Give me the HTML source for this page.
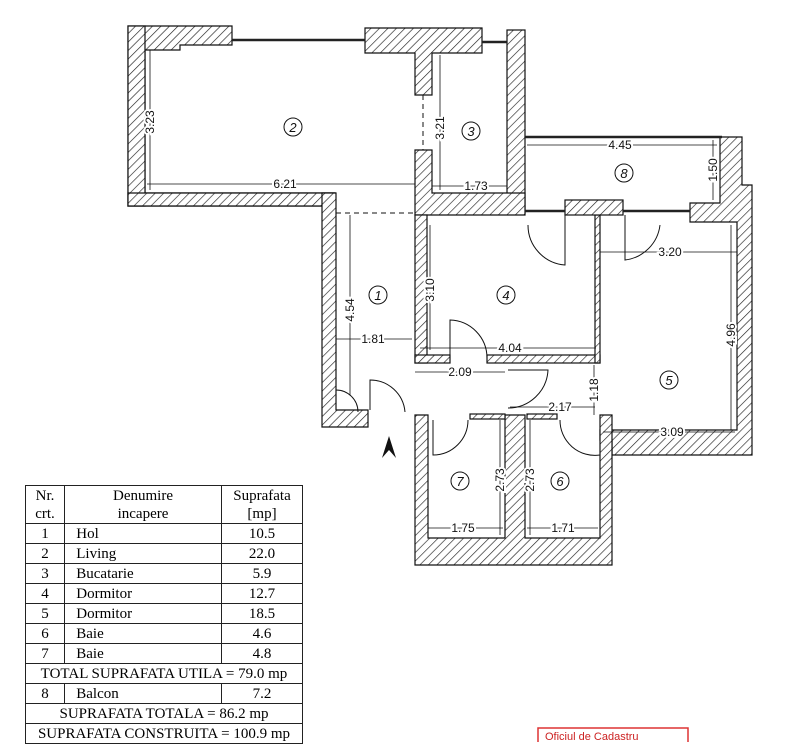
<!DOCTYPE html>
<html><head><meta charset="utf-8"><style>
body{margin:0;background:#fff;width:800px;height:742px;overflow:hidden;position:relative;font-family:"Liberation Serif",serif}
svg{position:absolute;left:0;top:0}
table{position:absolute;left:25px;top:485px;border-collapse:collapse;font-size:15px;width:278px}
td{border:1.5px solid #222;height:19px;padding:0;line-height:18px}
.c{text-align:center}
</style></head><body>
<svg width="800" height="742" viewBox="0 0 800 742" font-family="Liberation Sans, sans-serif">
<defs><pattern id="h" width="6" height="6" patternUnits="userSpaceOnUse" patternTransform="rotate(45)"><rect width="6" height="6" fill="#fff"/><line x1="0" y1="0" x2="0" y2="6" stroke="#222" stroke-width="1.3"/></pattern></defs>
<g fill="url(#h)" stroke="#111" stroke-width="1.2">
<path d="M128 26H232V45H180V50H145V193H335V206H145V206H128Z"/>
<rect x="128" y="26" width="17" height="180"/>
<path d="M365 28H482V53H432V95H415V53H365Z"/>
<rect x="507" y="30" width="18" height="183"/>
<path d="M128 193H335V206H128Z"/>
<path d="M322 193H336V410H368V427H322Z"/>
<path d="M415 150H432V193H525V215H415Z"/>
<rect x="415" y="215" width="12" height="148"/>
<rect x="415" y="355" width="35" height="8"/>
<rect x="487" y="355" width="113" height="8"/>
<rect x="595" y="215" width="5" height="148"/>
<rect x="565" y="200" width="58" height="15"/>
<path d="M690 203H720V137H742V185H752V455H612V440H600V430H737V222H690Z"/>
<path d="M415 415H428V538H505V415H525V538H600V415H612V565H415Z"/>
<rect x="470" y="414" width="35" height="5"/>
<rect x="527" y="414" width="30" height="5"/>
</g>
<g stroke="#222" stroke-width="2.5" fill="none">
<line x1="232" y1="40" x2="365" y2="40"/><line x1="482" y1="42" x2="507" y2="42"/>
<line x1="525" y1="137" x2="722" y2="137"/>
<line x1="525" y1="211" x2="565" y2="211"/><line x1="623" y1="211" x2="690" y2="211"/>
</g>
<g stroke="#111" stroke-width="1" fill="none">
<line x1="423" y1="95" x2="423" y2="150" stroke-dasharray="5,4"/>
<line x1="336" y1="213" x2="415" y2="213" stroke-dasharray="5,4"/>
<path d="M450 363V320A38 38 0 0 1 487 358"/>
<path d="M565 215V265A40 40 0 0 1 528 225"/><path d="M625 215V260A40 40 0 0 0 660 225"/>
<path d="M508 370H548A40 40 0 0 1 508 408"/>
<path d="M370 410V380A35 35 0 0 1 405 412"/>
<path d="M433 420V455A35 35 0 0 0 468 420"/><path d="M600 420V455A35 35 0 0 1 560 420"/>
<path d="M336 390A22 22 0 0 1 358 412"/>
</g>
<g stroke="#111" stroke-width="0.8" fill="none">
<line x1="150" y1="50" x2="150" y2="190"/><line x1="147" y1="184" x2="415" y2="184"/>
<line x1="440" y1="55" x2="440" y2="190"/><line x1="432" y1="186" x2="507" y2="186"/>
<line x1="350" y1="215" x2="350" y2="395"/><line x1="336" y1="339" x2="412" y2="339"/>
<line x1="430" y1="225" x2="430" y2="350"/><line x1="420" y1="348" x2="596" y2="348"/>
<line x1="415" y1="372" x2="505" y2="372"/>
<line x1="600" y1="252" x2="737" y2="252"/><line x1="731" y1="225" x2="731" y2="430"/>
<line x1="594" y1="365" x2="594" y2="415"/><line x1="510" y1="407" x2="595" y2="407"/>
<line x1="603" y1="432" x2="735" y2="432"/>
<line x1="500" y1="420" x2="500" y2="535"/><line x1="530" y1="420" x2="530" y2="535"/>
<line x1="428" y1="528" x2="503" y2="528"/><line x1="527" y1="528" x2="598" y2="528"/>
<line x1="527" y1="145" x2="717" y2="145"/><line x1="713" y1="140" x2="713" y2="200"/>
</g>
<g font-size="12" text-anchor="middle" fill="#111" stroke="#fff" stroke-width="4" paint-order="stroke">
<text x="285" y="188">6.21</text>
<text x="476" y="190">1.73</text>
<text x="373" y="343">1.81</text>
<text x="510" y="352">4.04</text>
<text x="460" y="376">2.09</text>
<text x="670" y="256">3.20</text>
<text x="560" y="411">2.17</text>
<text x="672" y="436">3.09</text>
<text x="463" y="532">1.75</text>
<text x="563" y="532">1.71</text>
<text x="620" y="149">4.45</text>
<text transform="translate(154,122) rotate(-90)">3.23</text>
<text transform="translate(444,128) rotate(-90)">3.21</text>
<text transform="translate(354,310) rotate(-90)">4.54</text>
<text transform="translate(434,290) rotate(-90)">3.10</text>
<text transform="translate(735,335) rotate(-90)">4.96</text>
<text transform="translate(598,390) rotate(-90)">1.18</text>
<text transform="translate(504,480) rotate(-90)">2.73</text>
<text transform="translate(534,480) rotate(-90)">2.73</text>
<text transform="translate(717,170) rotate(-90)">1.50</text>
</g>
<g fill="none" stroke="#111">
<circle cx="293" cy="127" r="9"/><circle cx="471" cy="131" r="9"/><circle cx="378" cy="295" r="9"/>
<circle cx="506" cy="295" r="9"/><circle cx="669" cy="380" r="9"/><circle cx="624" cy="173" r="9"/>
<circle cx="460" cy="481" r="9"/><circle cx="560" cy="481" r="9"/>
</g>
<g font-size="13" text-anchor="middle" font-style="italic" fill="#111">
<text x="293" y="132">2</text><text x="471" y="136">3</text><text x="378" y="300">1</text>
<text x="506" y="300">4</text><text x="669" y="385">5</text><text x="624" y="178">8</text>
<text x="460" y="486">7</text><text x="560" y="486">6</text>
</g>
<path d="M382 458L389 436L396 458L389 450Z" fill="#111"/>
<rect x="538" y="728" width="150" height="16" fill="none" stroke="#d33" stroke-width="1.5"/>
<text x="545" y="740" font-size="11" fill="#c22">Oficiul de Cadastru</text>
</svg>
<table>
<tr><td class="c" style="width:38px;height:37px">Nr.<br>crt.</td><td class="c" style="width:156px">Denumire<br>incapere</td><td class="c">Suprafata<br>[mp]</td></tr>
<tr><td class="c">1</td><td>&nbsp;&nbsp;&nbsp;Hol</td><td class="c">10.5</td></tr>
<tr><td class="c">2</td><td>&nbsp;&nbsp;&nbsp;Living</td><td class="c">22.0</td></tr>
<tr><td class="c">3</td><td>&nbsp;&nbsp;&nbsp;Bucatarie</td><td class="c">5.9</td></tr>
<tr><td class="c">4</td><td>&nbsp;&nbsp;&nbsp;Dormitor</td><td class="c">12.7</td></tr>
<tr><td class="c">5</td><td>&nbsp;&nbsp;&nbsp;Dormitor</td><td class="c">18.5</td></tr>
<tr><td class="c">6</td><td>&nbsp;&nbsp;&nbsp;Baie</td><td class="c">4.6</td></tr>
<tr><td class="c">7</td><td>&nbsp;&nbsp;&nbsp;Baie</td><td class="c">4.8</td></tr>
<tr><td colspan="3" class="c">TOTAL SUPRAFATA UTILA = 79.0 mp</td></tr>
<tr><td class="c">8</td><td>&nbsp;&nbsp;&nbsp;Balcon</td><td class="c">7.2</td></tr>
<tr><td colspan="3" class="c">SUPRAFATA TOTALA = 86.2 mp</td></tr>
<tr><td colspan="3" class="c">SUPRAFATA CONSTRUITA = 100.9 mp</td></tr>
</table>
</body></html>
